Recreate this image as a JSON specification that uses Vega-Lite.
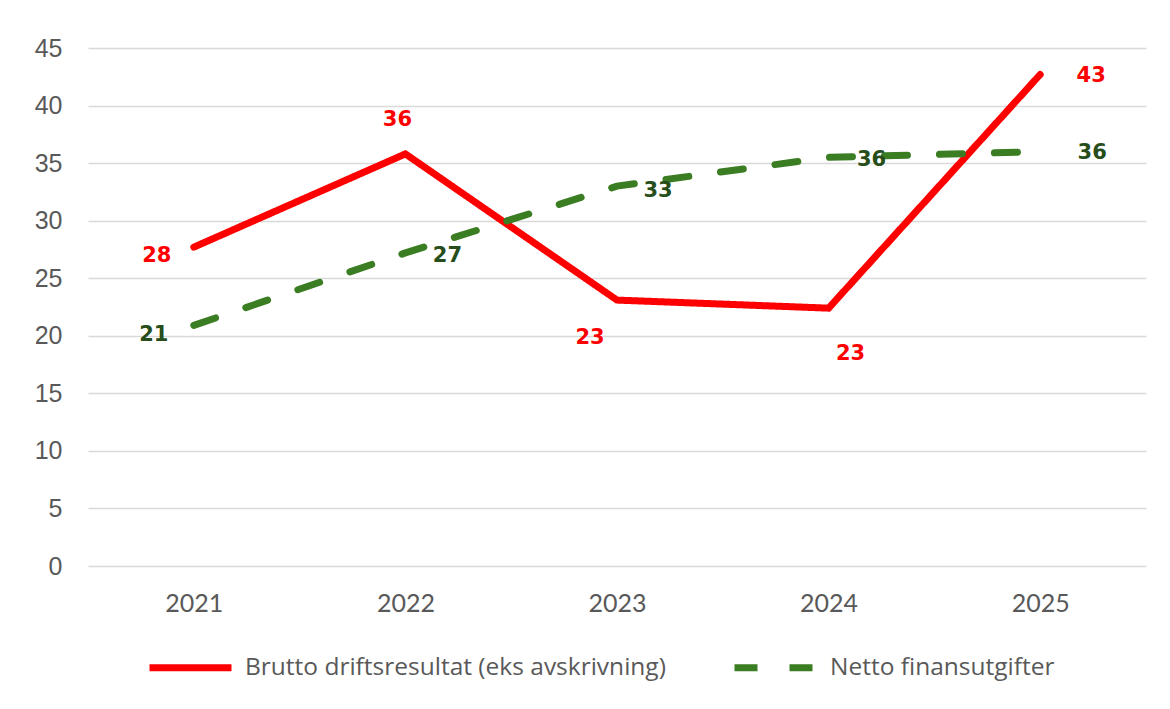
{
  "$schema": "https://vega.github.io/schema/vega-lite/v6.json",
  "autosize": {"type": "none"},
  "width": 1058,
  "height": 518,
  "padding": {"left": 88, "top": 48, "right": 24, "bottom": 143},
  "background": "white",
  "config": {"view": {"stroke": null}},
  "data": {
    "values": [
      {"year": "2021", "series": "Brutto driftsresultat (eks avskrivning)", "value": 27.7, "label": "28"},
      {"year": "2022", "series": "Brutto driftsresultat (eks avskrivning)", "value": 35.8, "label": "36"},
      {"year": "2023", "series": "Brutto driftsresultat (eks avskrivning)", "value": 23.1, "label": "23"},
      {"year": "2024", "series": "Brutto driftsresultat (eks avskrivning)", "value": 22.4, "label": "23"},
      {"year": "2025", "series": "Brutto driftsresultat (eks avskrivning)", "value": 42.7, "label": "43"},
      {"year": "2021", "series": "Netto finansutgifter", "value": 20.9, "label": "21"},
      {"year": "2022", "series": "Netto finansutgifter", "value": 27.2, "label": "27"},
      {"year": "2023", "series": "Netto finansutgifter", "value": 33.0, "label": "33"},
      {"year": "2024", "series": "Netto finansutgifter", "value": 35.5, "label": "36"},
      {"year": "2025", "series": "Netto finansutgifter", "value": 36.0, "label": "36"}
    ]
  },
  "encoding": {
    "x": {
      "field": "year", "type": "ordinal",
      "scale": {"type": "point", "padding": 0.5},
      "axis": {
        "title": null, "labelAngle": 0, "domain": false, "ticks": false,
        "labelFont": "Lato", "labelFontSize": 25, "labelColor": "#595959",
        "labelPadding": 25, "grid": false
      }
    },
    "y": {
      "field": "value", "type": "quantitative",
      "scale": {"domain": [0, 45], "nice": false},
      "axis": {
        "title": null, "values": [0, 5, 10, 15, 20, 25, 30, 35, 40, 45],
        "domain": false, "ticks": false, "labelFont": "Liberation Sans",
        "labelFontSize": 25, "labelColor": "#595959", "labelPadding": 26,
        "gridColor": "#d9d9d9", "gridWidth": 1.5
      }
    }
  },
  "layer": [
    {
      "mark": {"type": "line", "strokeWidth": 7, "strokeCap": "round"},
      "encoding": {
        "color": {
          "field": "series", "type": "nominal",
          "scale": {"domain": ["Brutto driftsresultat (eks avskrivning)", "Netto finansutgifter"], "range": ["#FF0000", "#3A7D22"]},
          "legend": {
            "title": null, "orient": "none", "direction": "horizontal",
            "legendX": 58, "legendY": 575,
            "symbolType": "stroke", "symbolSize": 6724, "symbolStrokeWidth": 7,
            "labelFont": "Open Sans", "labelFontSize": 24.5, "labelColor": "#595959",
            "labelOffset": 10, "columnPadding": 54, "labelLimit": 600
          }
        },
        "strokeDash": {
          "field": "series", "type": "nominal",
          "scale": {"domain": ["Brutto driftsresultat (eks avskrivning)", "Netto finansutgifter"], "range": [[1, 0], [23, 32]]},
          "legend": {
            "title": null, "orient": "none", "direction": "horizontal",
            "legendX": 58, "legendY": 575,
            "symbolType": "stroke", "symbolSize": 6724, "symbolStrokeWidth": 7,
            "labelFont": "Open Sans", "labelFontSize": 24.5, "labelColor": "#595959",
            "labelOffset": 10, "columnPadding": 54, "labelLimit": 600
          }
        }
      }
    },
    {
      "transform": [{"filter": "datum.series == 'Brutto driftsresultat (eks avskrivning)' && datum.year == '2021'"}],
      "mark": {"type": "text", "font": "DejaVu Sans", "fontWeight": "bold", "fontSize": 21, "color": "#FF0000", "dx": -37, "dy": 9},
      "encoding": {"text": {"field": "label"}}
    },
    {
      "transform": [{"filter": "datum.series == 'Brutto driftsresultat (eks avskrivning)' && datum.year == '2022'"}],
      "mark": {"type": "text", "font": "DejaVu Sans", "fontWeight": "bold", "fontSize": 21, "color": "#FF0000", "dx": -8, "dy": -34},
      "encoding": {"text": {"field": "label"}}
    },
    {
      "transform": [{"filter": "datum.series == 'Brutto driftsresultat (eks avskrivning)' && datum.year == '2023'"}],
      "mark": {"type": "text", "font": "DejaVu Sans", "fontWeight": "bold", "fontSize": 21, "color": "#FF0000", "dx": -27, "dy": 38},
      "encoding": {"text": {"field": "label"}}
    },
    {
      "transform": [{"filter": "datum.series == 'Brutto driftsresultat (eks avskrivning)' && datum.year == '2024'"}],
      "mark": {"type": "text", "font": "DejaVu Sans", "fontWeight": "bold", "fontSize": 21, "color": "#FF0000", "dx": 22, "dy": 46},
      "encoding": {"text": {"field": "label"}}
    },
    {
      "transform": [{"filter": "datum.series == 'Brutto driftsresultat (eks avskrivning)' && datum.year == '2025'"}],
      "mark": {"type": "text", "font": "DejaVu Sans", "fontWeight": "bold", "fontSize": 21, "color": "#FF0000", "dx": 51, "dy": 2},
      "encoding": {"text": {"field": "label"}}
    },
    {
      "transform": [{"filter": "datum.series == 'Netto finansutgifter' && datum.year == '2021'"}],
      "mark": {"type": "text", "font": "DejaVu Sans", "fontWeight": "bold", "fontSize": 21, "color": "#264D1A", "dx": -40, "dy": 10},
      "encoding": {"text": {"field": "label"}}
    },
    {
      "transform": [{"filter": "datum.series == 'Netto finansutgifter' && datum.year == '2022'"}],
      "mark": {"type": "text", "font": "DejaVu Sans", "fontWeight": "bold", "fontSize": 21, "color": "#264D1A", "dx": 42, "dy": 3},
      "encoding": {"text": {"field": "label"}}
    },
    {
      "transform": [{"filter": "datum.series == 'Netto finansutgifter' && datum.year == '2023'"}],
      "mark": {"type": "text", "font": "DejaVu Sans", "fontWeight": "bold", "fontSize": 21, "color": "#264D1A", "dx": 41, "dy": 5},
      "encoding": {"text": {"field": "label"}}
    },
    {
      "transform": [{"filter": "datum.series == 'Netto finansutgifter' && datum.year == '2024'"}],
      "mark": {"type": "text", "font": "DejaVu Sans", "fontWeight": "bold", "fontSize": 21, "color": "#264D1A", "dx": 43, "dy": 3},
      "encoding": {"text": {"field": "label"}}
    },
    {
      "transform": [{"filter": "datum.series == 'Netto finansutgifter' && datum.year == '2025'"}],
      "mark": {"type": "text", "font": "DejaVu Sans", "fontWeight": "bold", "fontSize": 21, "color": "#264D1A", "dx": 52, "dy": 1},
      "encoding": {"text": {"field": "label"}}
    }
  ]
}
